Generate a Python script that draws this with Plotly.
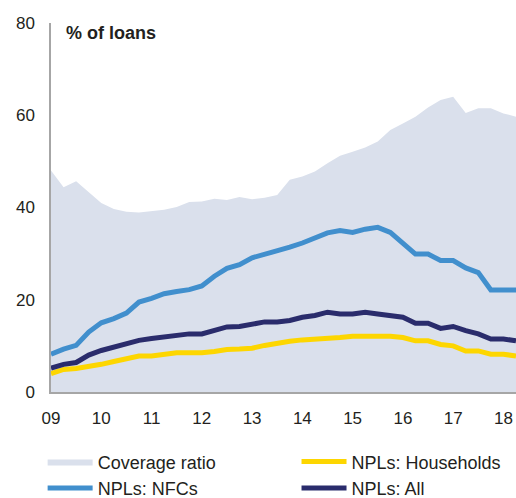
import plotly.graph_objects as go

quarters = [2009 + i / 4 for i in range(38)]
year_ticks = list(range(2009, 2019))
year_labels = ["09", "10", "11", "12", "13", "14", "15", "16", "17", "18"]

coverage = [48.0, 44.4, 45.7, 43.4, 41.0, 39.7, 39.1, 38.9, 39.2, 39.5,
            40.1, 41.2, 41.3, 41.9, 41.6, 42.3, 41.8, 42.1, 42.7, 46.0,
            46.7, 47.8, 49.6, 51.2, 52.1, 53.0, 54.3, 56.8, 58.2, 59.7,
            61.7, 63.3, 64.0, 60.5, 61.5, 61.5, 60.4, 59.7]
npl_nfc = [8.2, 9.3, 10.1, 13.0, 15.0, 15.9, 17.1, 19.5, 20.3, 21.3,
           21.8, 22.2, 23.0, 25.1, 26.8, 27.6, 29.1, 29.8, 30.5, 31.4,
           32.3, 33.4, 34.5, 35.0, 34.6, 35.3, 35.7, 34.6, 32.4, 29.9,
           29.9, 28.5, 28.5, 26.9, 25.9, 22.1, 22.1, 22.1]
npl_all = [5.2, 6.0, 6.4, 8.0, 9.0, 9.8, 10.6, 11.2, 11.6, 12.0,
           12.4, 12.6, 12.6, 13.3, 14.1, 14.2, 14.6, 15.2, 15.2, 15.5,
           16.2, 16.6, 17.3, 16.9, 16.9, 17.3, 16.9, 16.5, 16.2, 14.9,
           14.9, 13.8, 14.2, 13.3, 12.6, 11.5, 11.5, 11.1]
npl_hh = [4.0, 4.9, 5.1, 5.5, 6.0, 6.6, 7.3, 7.8, 7.8, 8.1,
          8.5, 8.5, 8.5, 8.8, 9.2, 9.3, 9.5, 10.1, 10.6, 11.0,
          11.3, 11.4, 11.7, 11.8, 12.1, 12.1, 12.1, 12.1, 11.8, 11.1,
          11.1, 10.3, 10.0, 8.9, 8.9, 8.2, 8.2, 7.8]

FONT = "Liberation Sans, Arial, sans-serif"
TXT = "#231f20"

fig = go.Figure()
fig.add_trace(go.Scatter(x=quarters, y=coverage, name="Coverage ratio",
                         mode="lines", fill="tozeroy", fillcolor="#DAE0EC",
                         line=dict(width=0, color="#DAE0EC"), legend="legend"))
fig.add_trace(go.Scatter(x=quarters, y=npl_hh, name="NPLs: Households",
                         mode="lines", line=dict(color="#FDD600", width=5),
                         legend="legend2"))
fig.add_trace(go.Scatter(x=quarters, y=npl_nfc, name="NPLs: NFCs",
                         mode="lines", line=dict(color="#418FCD", width=5),
                         legend="legend"))
fig.add_trace(go.Scatter(x=quarters, y=npl_all, name="NPLs: All",
                         mode="lines", line=dict(color="#2A2C6C", width=5),
                         legend="legend2"))

fig.add_annotation(text="<b>% of loans</b>", xref="paper", yref="paper",
                   x=0.028, y=0.973, xanchor="left", yanchor="middle",
                   showarrow=False, font=dict(family=FONT, size=18, color=TXT))

legend_common = dict(orientation="v", xanchor="left", yanchor="bottom",
                     itemwidth=45, traceorder="normal", bgcolor="rgba(0,0,0,0)",
                     font=dict(family=FONT, size=18, color=TXT))

fig.update_layout(
    width=516, height=498,
    margin=dict(l=51, r=0, t=23, b=106, autoexpand=False),
    paper_bgcolor="white", plot_bgcolor="white",
    font=dict(family=FONT, size=17, color=TXT),
    showlegend=True,
    legend=dict(x=-0.018, y=-0.31, **legend_common),
    legend2=dict(x=0.528, y=-0.31, **legend_common),
)
fig.update_xaxes(range=[2009, 2018.25], tickvals=year_ticks, ticktext=year_labels,
                 showgrid=False, zeroline=False, showline=True,
                 linecolor="#A6A6A6", linewidth=1.5, ticks="",
                 ticklabelstandoff=10, tickfont=dict(size=17))
fig.update_yaxes(range=[0, 80], tickvals=[0, 20, 40, 60, 80],
                 showgrid=False, zeroline=False, showline=True,
                 linecolor="#A6A6A6", linewidth=1.5, ticks="",
                 ticklabelstandoff=11, tickfont=dict(size=17))

# remove the default page margin so the 516x498 figure fills the window exactly
fig.write_html("out.html",
               config={"displayModeBar": False},
               post_script="document.body.style.margin='0';"
                           "document.body.style.overflow='hidden';")
